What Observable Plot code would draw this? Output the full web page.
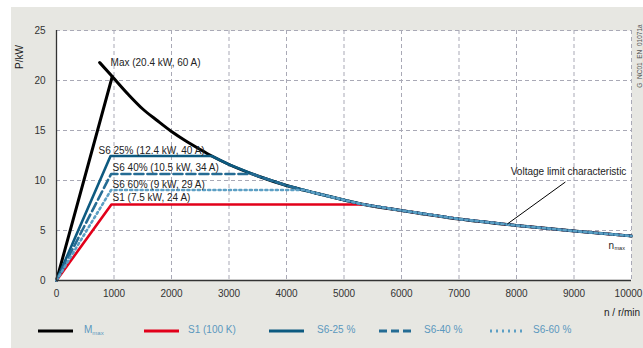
<!DOCTYPE html>
<html><head><meta charset="utf-8">
<script src="https://cdn.jsdelivr.net/npm/d3@7"></script>
<script src="https://cdn.jsdelivr.net/npm/@observablehq/plot@0.6"></script>
<style>
body{margin:0;background:#fff;font-family:"Liberation Sans",Arial,sans-serif;}
#wrap{position:relative;width:643px;height:348px;overflow:hidden;background:#fff;}
#panel{position:absolute;left:11px;top:7px;width:632px;height:341px;background:#e7e7e2;}
#chart{position:absolute;left:0;top:0;}
.abs{position:absolute;white-space:nowrap;line-height:1;}
.abs svg{display:block;}
.rot{transform:translate(-50%,-50%) rotate(-90deg);}
.legtxt{font-size:10px;color:#5b98be;}
.legtxt sub{font-size:6px;vertical-align:-2px;}
</style></head>
<body>
<div id="wrap"><div id="panel"></div><div id="chart"></div></div>
<script>
// Voltage limit characteristic
const curveN = [750, 970, 1250, 1500, 1750, 2000, 2250, 2500, 2700, 3000, 3500, 4000, 4500, 5000, 5300, 6000, 7000, 8000, 9000, 10000];
const curveP = [21.8, 20.4, 18.6, 17.15, 16.0, 14.9, 13.95, 13.1, 12.45, 11.6, 10.45, 9.5, 8.75, 8.05, 7.65, 7.0, 6.15, 5.5, 4.95, 4.45];

// Operating-mode series: corner speed and rated power
const seriesNames = ["Mmax", "S1 (100 K)", "S6-25 %", "S6-40 %", "S6-60 %"];
const cornerN = [970, 955, 940, 950, 950];
const cornerP = [20.4, 7.6, 12.45, 10.65, 9.05];

// Tick labels
const xTicks = [0, 1000, 2000, 3000, 4000, 5000, 6000, 7000, 8000, 9000, 10000];
const yTicks = [0, 5, 10, 15, 20, 25];

// Annotation texts (anchored in data units)
const annText = ["Max (20.4 kW, 60 A)", "S6 25% (12.4 kW, 40 A)", "S6 40% (10.5 kW, 34 A)", "S6 60% (9 kW, 29 A)", "S1 (7.5 kW, 24 A)", "Voltage limit characteristic"];
const annN = [940, 730, 975, 975, 975, 7900];
const annP = [21.8, 13.0, 11.25, 9.6, 8.3, 10.9];

// Styles (kept separate from data)
const colors = ["#000000", "#e2001a", "#0d5a80", "#256c94", "#5c9fc4"];
const widths = [3, 2.6, 2.6, 2.6, 2.6];
const dashes = [null, null, null, "9,4", "2,3.2"];

const curve = curveN.map((n, i) => ({n, p: curveP[i]}));

function buildSeries(i) {
  const P = cornerP[i];
  const pts = [{n: 0, p: 0}, {n: cornerN[i], p: P}];
  if (i === 0) return pts;
  let k = curve.findIndex(d => d.p < P);
  const a = curve[k - 1], b = curve[k];
  const t = (a.p - P) / (a.p - b.p);
  pts.push({n: a.n + t * (b.n - a.n), p: P});
  for (let j = k; j < curve.length; j++) pts.push(curve[j]);
  return pts;
}

const marks = [
  Plot.frame({fill: "white", stroke: "none"}),
  Plot.gridX(xTicks, {stroke: "#a9a9b6", strokeOpacity: 1, strokeDasharray: "4,3", strokeWidth: 1}),
  Plot.gridY(yTicks, {stroke: "#a9a9b6", strokeOpacity: 1, strokeDasharray: "4,3", strokeWidth: 1}),
  Plot.axisX(xTicks.slice(0, -1), {tickSize: 0, tickPadding: 9, tickFormat: d => String(d), label: null, fill: "#333", fontSize: 10}),
  Plot.axisX(xTicks.slice(-1), {tickSize: 0, tickPadding: 9, tickFormat: d => String(d), label: null, fill: "#333", fontSize: 10, dx: -3}),
  Plot.axisY(yTicks, {tickSize: 0, tickPadding: 11, label: null, fill: "#333", fontSize: 10}),
  Plot.line(curve, {x: "n", y: "p", stroke: colors[0], strokeWidth: widths[0], curve: "monotone-x"})
];
for (let i = 0; i < seriesNames.length; i++) {
  marks.push(Plot.line(buildSeries(i), {x: "n", y: "p", stroke: colors[i], strokeWidth: widths[i], strokeDasharray: dashes[i]}));
}
marks.push(
  Plot.ruleX([0], {stroke: "#333", strokeWidth: 1.3}),
  Plot.ruleY([0], {stroke: "#333", strokeWidth: 1.3}),
  Plot.text(annText.map((t, i) => ({t, n: annN[i], p: annP[i]})), {x: "n", y: "p", text: "t", textAnchor: "start", fill: "#222", fontSize: 10}),
  Plot.link([{n1: 8850, p1: 9.85, n2: 7840, p2: 5.65}], {x1: "n1", y1: "p1", x2: "n2", y2: "p2", stroke: "#000", strokeWidth: 1}),
  Plot.text([{n: 9600, p: 3.5}], {x: "n", y: "p", text: () => "n", textAnchor: "start", fill: "#222", fontSize: 10}),
  Plot.text([{n: 9600, p: 3.5}], {x: "n", y: "p", text: () => "max", textAnchor: "start", fill: "#222", fontSize: 5.5, dx: 6, dy: 3})
);

const chart = Plot.plot({
  width: 643, height: 348,
  marginLeft: 56, marginRight: 12, marginTop: 30, marginBottom: 68,
  x: {domain: [0, 10000]},
  y: {domain: [0, 25]},
  style: {background: "transparent", fontFamily: "Liberation Sans, Arial, sans-serif", fontSize: "10px"},
  marks
});
document.getElementById("chart").appendChild(chart);

const wrap = document.getElementById("wrap");
function addDiv(html, css, cls) {
  const d = document.createElement("div");
  d.className = "abs " + (cls || "");
  d.innerHTML = html;
  d.style.cssText = css;
  wrap.appendChild(d);
  return d;
}
addDiv("P/kW", "left:20px;top:57px;font-size:10px;color:#222;", "rot");
addDiv("G_NC01_EN_01071a", "left:640px;top:56px;font-size:6.5px;color:#555;", "rot");
addDiv("n / r/min", "left:604px;top:308px;font-size:10px;color:#222;");

// Legend
const legLineX = [38, 144, 269, 379, 490];
const legTextX = [84, 188, 317, 424, 533];
const legLabels = ["M<sub>max</sub>", "S1 (100 K)", "S6-25 %", "S6-40 %", "S6-60 %"];
for (let i = 0; i < seriesNames.length; i++) {
  const svg = `<svg width="36" height="6"><line x1="0" x2="35" y1="3" y2="3" stroke="${colors[i]}" stroke-width="3" ${dashes[i] ? `stroke-dasharray="${i === 3 ? '8,4' : '2,4'}"` : ""}/></svg>`;
  addDiv(svg, `left:${legLineX[i]}px;top:328px;`);
  addDiv(legLabels[i], `left:${legTextX[i]}px;top:325px;`, "legtxt");
}
</script>
</body></html>
